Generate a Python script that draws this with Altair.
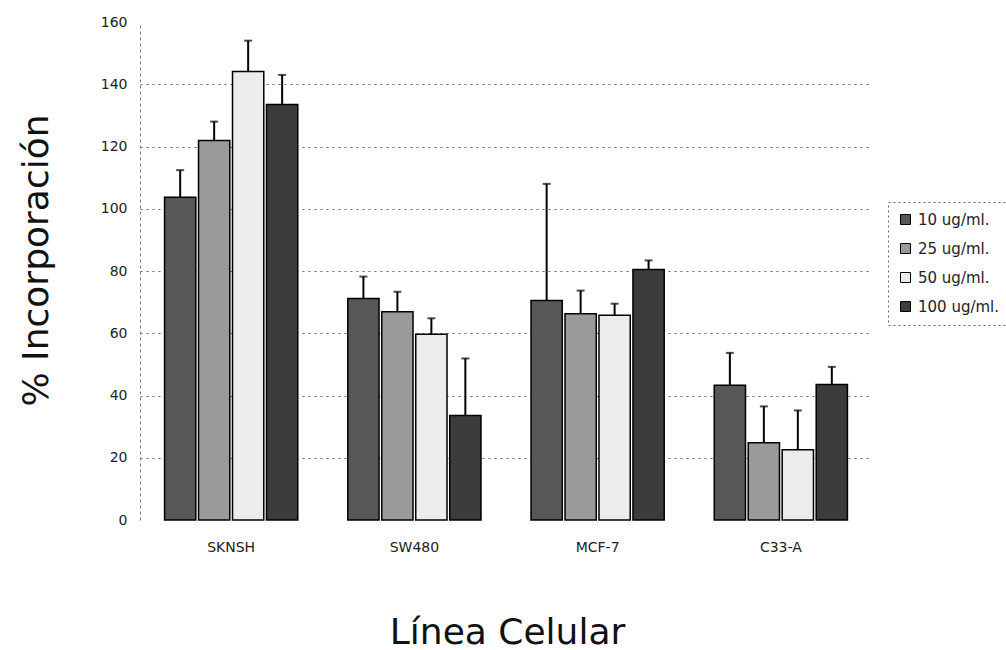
import altair as alt
import pandas as pd

# Cell lines (x categories) and doses (series)
lineas = ["SKNSH", "SW480", "MCF-7", "C33-A"]
dosis = ["10 ug/ml.", "25 ug/ml.", "50 ug/ml.", "100 ug/ml."]

# % incorporation per dose, one value per cell line
inc_10 = [103.7, 71.2, 70.5, 43.3]
inc_25 = [121.9, 66.9, 66.3, 24.8]
inc_50 = [144.1, 59.7, 65.8, 22.6]
inc_100 = [133.5, 33.6, 80.5, 43.5]

# upper error (standard deviation) per dose
err_10 = [8.7, 7.0, 37.5, 10.4]
err_25 = [6.1, 6.4, 7.4, 11.7]
err_50 = [9.9, 5.1, 3.7, 12.6]
err_100 = [9.5, 18.3, 2.9, 5.7]

y_ticks = [0, 20, 40, 60, 80, 100, 120, 140, 160]
colores = ["#575757", "#9a9a9a", "#ececec", "#3c3c3c"]

series = {
    "10 ug/ml.": (inc_10, err_10),
    "25 ug/ml.": (inc_25, err_25),
    "50 ug/ml.": (inc_50, err_50),
    "100 ug/ml.": (inc_100, err_100),
}
rows = []
for d in dosis:
    vals, errs = series[d]
    for linea, v, e in zip(lineas, vals, errs):
        rows.append({"linea": linea, "dosis": d, "valor": v, "tope": v + e})
df = pd.DataFrame(rows)

FONT = "DejaVu Sans"
Y_TITLE = "% Incorporación"

x_enc = alt.X(
    "linea:N",
    sort=lineas,
    scale=alt.Scale(paddingInner=0.273, paddingOuter=0.134),
    axis=alt.Axis(
        title="Línea Celular",
        labelAngle=0,
        labelFontSize=14,
        labelColor="#222",
        labelPadding=20,
        ticks=False,
        domain=False,
        titleFontSize=36,
        titleFontWeight="normal",
        titleColor="#111",
        titleX=367,
        titleY=123,
        titleAlign="center",
        titleBaseline="alphabetic",
    ),
)
xoff_enc = alt.XOffset("dosis:N", sort=dosis, scale=alt.Scale(paddingInner=0.08))

y_scale = alt.Scale(domain=[0, 160], nice=False)
y_axis = alt.Axis(
    values=y_ticks,
    title=Y_TITLE,
    labelFontSize=14,
    labelColor="#222",
    labelPadding=13,
    ticks=False,
    domainColor="#777",
    domainDash=[3, 3],
    grid=True,
    gridColor="#666",
    gridDash=[2, 4],
    gridWidth=1,
    gridOpacity=alt.condition("datum.value == 0 || datum.value == 160", alt.value(0), alt.value(1)),
    titleFontSize=36,
    titleFontWeight="normal",
    titleColor="#111",
    titleAngle=270,
    titleX=-93,
    titleY=238,
    titleAlign="center",
    titleBaseline="alphabetic",
)

base = alt.Chart(df).encode(x=x_enc, xOffset=xoff_enc)

bars = base.mark_bar(stroke="black", strokeWidth=1.5).encode(
    y=alt.Y("valor:Q", scale=y_scale, axis=y_axis),
    color=alt.Color(
        "dosis:N",
        sort=dosis,
        scale=alt.Scale(domain=dosis, range=colores),
        legend=alt.Legend(title=None, orient="none", legendX=748, legendY=180),
    ),
)

err_lines = base.mark_rule(color="black", strokeWidth=2).encode(
    y=alt.Y("valor:Q", scale=y_scale, title=Y_TITLE),
    y2="tope:Q",
)

err_caps = base.mark_tick(color="black", thickness=2, size=8).encode(
    y=alt.Y("tope:Q", scale=y_scale, title=Y_TITLE),
)

chart = (
    alt.layer(bars, err_lines, err_caps)
    .properties(
        width=732,
        height=498,
        autosize=alt.AutoSizeParams(type="none"),
        padding={"left": 140, "top": 22, "right": 134, "bottom": 130},
        background="white",
    )
    .configure(font=FONT)
    .configure_view(strokeWidth=0)
    .configure_legend(
        padding=10,
        strokeColor="#666",
        strokeDash=[2, 3],
        symbolType="square",
        symbolSize=100,
        symbolStrokeColor="black",
        symbolStrokeWidth=1,
        labelFontSize=15,
        labelColor="#222",
        labelOffset=5,
        rowPadding=13,
    )
)

chart.save("out.html", embed_options={"renderer": "svg", "actions": False})
